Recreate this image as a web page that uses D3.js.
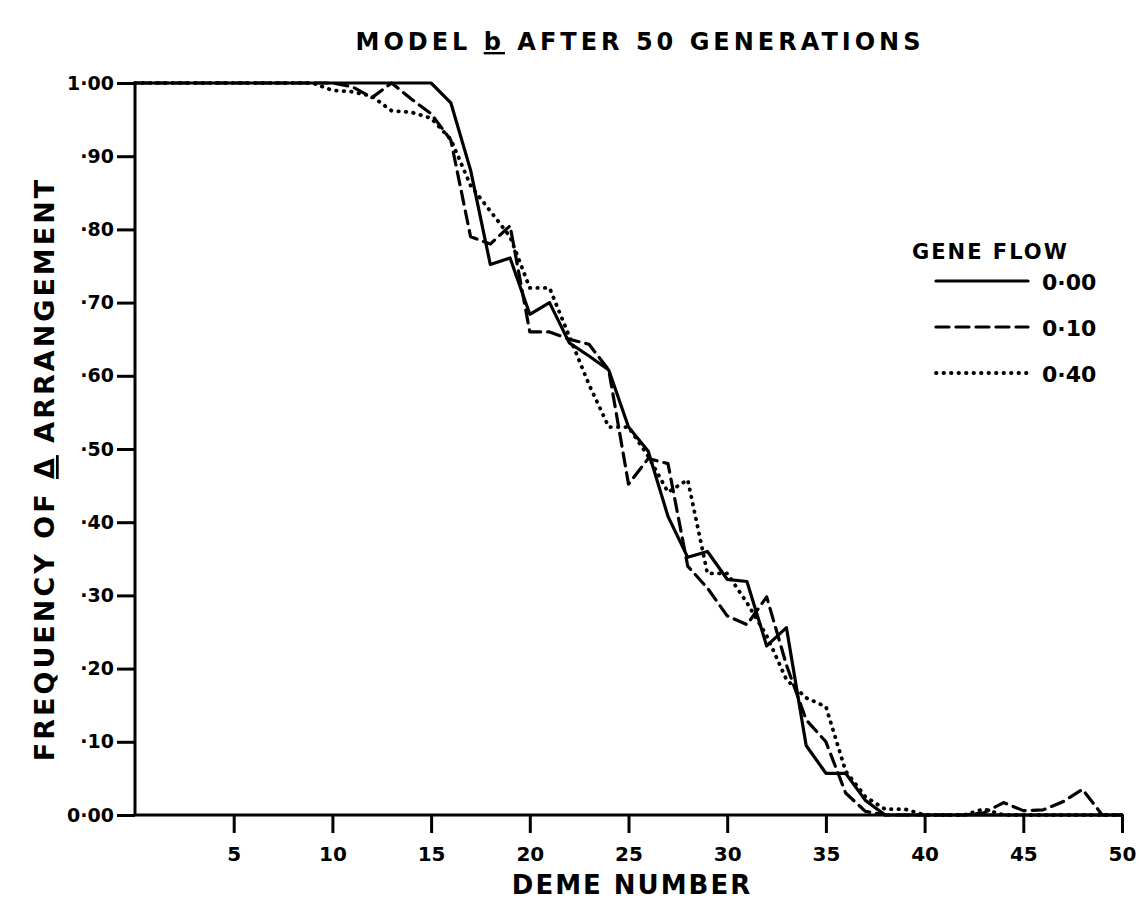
<!DOCTYPE html>
<html>
<head>
<meta charset="utf-8">
<script src="https://cdn.jsdelivr.net/npm/d3@7"></script>
<style>
  body { margin: 0; background: #fff; }
  svg text { font-family: "DejaVu Sans", sans-serif; font-weight: bold; fill: #000; }
</style>
</head>
<body>
<svg id="chart" width="1142" height="918"></svg>
<script>
// deme numbers 0..50
var demes = d3.range(0, 51);

// frequency of the arrangement
var flow000 = [1,1,1,1,1,1,1,1,1,1, 1,1,1,1,1,1, 0.973,0.881,0.752,0.761,0.684,0.70,0.645,0.627,0.608,0.53,
    0.497,0.408,0.352,0.36,0.322,0.319,0.231,0.256,0.095,0.057,0.057,0.02,0,0,0, 0,0,0,0,0,0,0,0,0,0];
var flow010 = [1,1,1,1,1,1,1,1,1,1, 1,0.995,0.98,1,0.978,0.958,0.922,0.79,0.78,0.805,0.66,0.66,0.65,0.643,0.608,0.452,
    0.487,0.48,0.34,0.31,0.272,0.26,0.298,0.205,0.13,0.10,0.03,0.005,0,0,0, 0,0,0.003,0.017,0.006,0.007,0.018,0.035,0,0];
var flow040 = [1,1,1,1,1,1,1,1,1,1, 0.99,0.988,0.982,0.962,0.96,0.952,0.923,0.86,0.825,0.79,0.72,0.72,0.654,0.588,0.53,0.53,
    0.49,0.441,0.458,0.33,0.33,0.29,0.245,0.185,0.16,0.148,0.06,0.025,0.008,0.008,0, 0,0,0.008,0,0,0,0,0,0,0];

var series = [
    {label: "0\u00b700", values: flow000, dash: null, width: 3.2},
    {label: "0\u00b710", values: flow010, dash: "13,7", width: 3.2},
    {label: "0\u00b740", values: flow040, dash: "0.5,7", width: 3.8}
];

var xTicks = [5,10,15,20,25,30,35,40,45,50];
var yTicks = [0,0.1,0.2,0.3,0.4,0.5,0.6,0.7,0.8,0.9,1.0];
var yTickLabels = ["0\u00b700","\u00b710","\u00b720","\u00b730","\u00b740","\u00b750","\u00b760","\u00b770","\u00b780","\u00b790","1\u00b700"];

var svg = d3.select("#chart");

var x = d3.scaleLinear().domain([0, 50]).range([135, 1122]);
var y = d3.scaleLinear().domain([0, 1]).range([815, 83]);

// x axis: ticks hang below the line
var xAxis = svg.append("g")
    .attr("transform", "translate(0," + y(0) + ")")
    .call(d3.axisBottom(x).tickValues(xTicks).tickSize(18).tickPadding(14)
        .tickFormat(function(d) { return d; }));
xAxis.select(".domain").attr("d", "M" + x(0) + ",0H" + x(50));
xAxis.selectAll("line, path").attr("stroke", "#000").attr("stroke-width", 3);
xAxis.selectAll("text").style("font-size", "20px").attr("dy", "0.71em");

var yAxis = svg.append("g")
    .attr("transform", "translate(" + x(0) + ",0)")
    .call(d3.axisLeft(y).tickValues(yTicks).tickSize(18).tickPadding(3)
        .tickFormat(function(d, i) { return yTickLabels[i]; }));
yAxis.select(".domain").attr("d", "M0," + y(1) + "V" + y(0));
yAxis.selectAll("line, path").attr("stroke", "#000").attr("stroke-width", 3);
yAxis.selectAll("text").style("font-size", "19px");

// lines
var line = d3.line()
    .x(function(d, i) { return x(demes[i]); })
    .y(function(d) { return y(d); });

svg.append("g").selectAll("path")
    .data(series)
    .enter().append("path")
    .attr("d", function(d) { return line(d.values); })
    .attr("fill", "none")
    .attr("stroke", "#000")
    .attr("stroke-width", function(d) { return d.width; })
    .attr("stroke-linejoin", "round")
    .attr("stroke-linecap", "round")
    .attr("stroke-dasharray", function(d) { return d.dash; });

// title
var title = svg.append("text")
    .attr("x", 640).attr("y", 50)
    .attr("text-anchor", "middle")
    .style("font-size", "24px")
    .style("letter-spacing", "4px");
title.append("tspan").text("MODEL ");
title.append("tspan").style("text-decoration", "underline").text("b");
title.append("tspan").text(" AFTER 50 GENERATIONS");

// axis titles
svg.append("text")
    .attr("x", 632).attr("y", 894)
    .attr("text-anchor", "middle")
    .style("font-size", "26px")
    .style("letter-spacing", "2px")
    .text("DEME  NUMBER");

var yTitle = svg.append("text")
    .attr("transform", "translate(54,469) rotate(-90)")
    .attr("text-anchor", "middle")
    .style("font-size", "27px")
    .style("letter-spacing", "3px");
yTitle.append("tspan").text("FREQUENCY OF ");
yTitle.append("tspan").style("text-decoration", "underline").text("\u0394");
yTitle.append("tspan").text(" ARRANGEMENT");

// legend
var legend = svg.append("g");
legend.append("text")
    .attr("x", 912).attr("y", 259)
    .style("font-size", "21px")
    .style("letter-spacing", "2px")
    .text("GENE FLOW");

var item = legend.selectAll(".item")
    .data(series)
    .enter().append("g")
    .attr("class", "item")
    .attr("transform", function(d, i) { return "translate(0," + (281 + i * 46) + ")"; });

item.append("line")
    .attr("x1", 936).attr("x2", 1028)
    .attr("stroke", "#000")
    .attr("stroke-width", function(d) { return d.width; })
    .attr("stroke-linecap", "round")
    .attr("stroke-dasharray", function(d) { return d.dash; });

item.append("text")
    .attr("x", 1042).attr("y", 9)
    .style("font-size", "22px")
    .text(function(d) { return d.label; });
</script>
</body>
</html>
